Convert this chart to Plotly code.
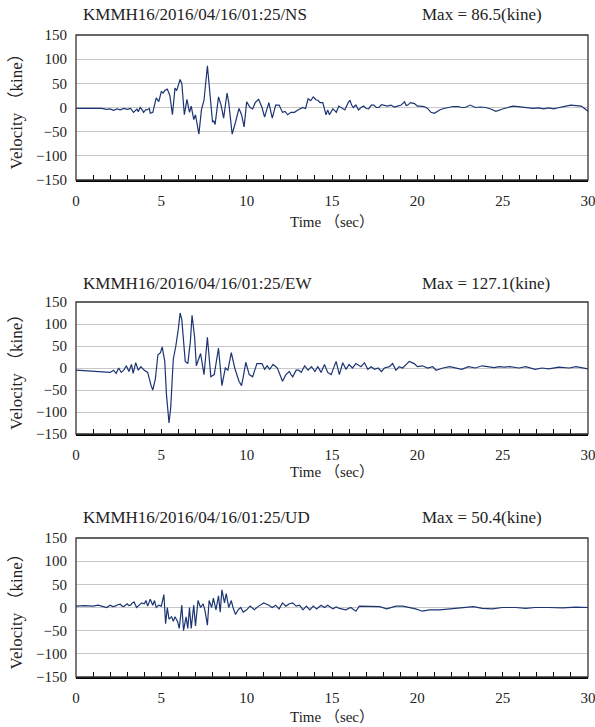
import plotly.graph_objects as go

# ---- data ----
ns_t = [0,0.5,1.0,1.5,1.8,2.0,2.2,2.4,2.6,2.8,3.0,3.2,3.37,3.5,3.57,3.65,3.76,3.9,3.96,4.1,4.16,4.3,4.35,4.5,4.7,4.85,5.0,5.1,5.2,5.35,5.5,5.65,5.8,5.9,6.1,6.2,6.35,6.5,6.65,6.75,6.9,7.0,7.2,7.35,7.5,7.7,7.85,8.0,8.07,8.15,8.35,8.5,8.65,8.85,8.95,9.15,9.35,9.55,9.7,9.85,10.0,10.2,10.35,10.5,10.7,10.9,11.05,11.3,11.5,11.7,11.9,12.1,12.25,12.4,12.6,12.8,13.0,13.29,13.45,13.6,13.75,13.9,14.05,14.17,14.3,14.46,14.65,14.75,14.85,15.05,15.15,15.25,15.4,15.55,15.75,15.95,16.05,16.15,16.25,16.4,16.55,16.7,16.85,17.0,17.15,17.3,17.45,17.6,17.75,17.9,18.05,18.25,18.45,18.65,18.85,19.05,19.25,19.35,19.44,19.6,19.83,20.0,20.12,20.4,20.6,20.8,21.0,21.15,21.3,21.55,21.8,22.1,22.4,22.6,22.8,23.1,23.4,23.7,24.0,24.3,24.6,24.8,25.0,25.3,25.6,25.9,26.2,26.5,26.8,27.1,27.4,27.7,28.0,28.2,28.4,28.7,29.0,29.3,29.6,29.8,30.0]
ns_v = [-2,-2,-3,-2,-4,-3,-6,-3,-5,-2,-4,-2,-10,-4,-3,-9,0,-6,-10,-4,-5,-2,-12,-10,20,12,33,30,35,38,25,-15,40,35,58,50,-15,17,-10,3,-25,-15,-55,-5,15,86.5,30,-30,-28,-35,22,5,-22,30,10,-55,-30,-2,-15,-40,12,0,-3,10,17,0,-20,10,-22,5,5,-10,-8,-15,-10,-10,-5,0,-2,18,14,22,16,15,10,10,-15,-5,-15,-3,-6,-10,3,0,-5,10,15,5,0,5,-5,0,3,-2,-3,5,5,0,0,6,5,3,5,1,3,5,12,4,5,10,8,3,3,2,-2,-10,-12,-8,-5,-2,0,2,2,0,0,5,0,1,0,-3,-8,-5,-3,0,3,2,1,-1,-2,-1,-3,-1,-3,-1,0,3,5,4,3,-2,-8]

ew_t = [0,0.5,1.0,1.5,1.8,2.0,2.2,2.35,2.5,2.65,2.8,2.95,3.1,3.25,3.35,3.5,3.65,3.8,4.0,4.2,4.4,4.5,4.65,4.8,4.95,5.05,5.2,5.3,5.45,5.55,5.7,5.85,6.0,6.1,6.2,6.4,6.55,6.7,6.8,6.95,7.05,7.3,7.5,7.7,7.9,8.1,8.35,8.55,8.75,8.9,9.1,9.3,9.55,9.7,9.8,9.95,10.15,10.35,10.6,10.9,11.05,11.2,11.35,11.55,11.8,12.0,12.1,12.3,12.5,12.6,12.7,12.9,13.05,13.2,13.4,13.6,13.8,14.0,14.17,14.36,14.56,14.75,14.95,15.24,15.43,15.63,15.82,16.0,16.2,16.4,16.7,16.9,17.1,17.3,17.5,17.7,17.9,18.07,18.36,18.55,18.75,18.94,19.14,19.53,19.82,20.0,20.3,20.6,20.9,21.1,21.5,21.9,22.26,22.6,23.0,23.4,23.8,24.2,24.5,24.8,25.1,25.4,25.7,25.96,26.35,26.9,27.3,27.7,28.3,28.9,29.3,29.7,30.0]
ew_v = [-5,-6,-7,-8,-8,-10,-5,-12,0,-10,-5,5,-8,8,-12,12,-5,3,-5,-10,-40,-50,-25,30,35,48,15,-60,-125,-90,20,50,90,125,110,15,10,60,120,70,5,33,-15,70,-20,-15,45,-40,0,-5,35,0,-30,-40,-20,13,-15,-20,10,10,-3,5,-3,8,0,-20,-30,-15,-8,-15,-20,-5,-5,-10,5,-5,3,-8,3,-10,8,-10,-15,15,-15,12,-3,8,0,10,3,12,-3,3,-3,0,-8,0,3,10,-5,3,0,15,10,3,5,0,3,-5,0,3,0,-3,3,0,5,3,1,3,2,3,1,0,3,-3,0,-2,2,0,3,0,-2]

ud_t = [0,0.5,1.0,1.3,1.5,1.8,2.0,2.15,2.3,2.45,2.6,2.7,2.8,2.9,3.0,3.1,3.2,3.3,3.4,3.55,3.7,3.85,4.0,4.1,4.2,4.35,4.5,4.6,4.7,4.85,5.0,5.15,5.25,5.35,5.45,5.6,5.7,5.8,5.95,6.05,6.2,6.3,6.45,6.55,6.65,6.75,6.9,7.0,7.15,7.3,7.45,7.55,7.7,7.8,7.95,8.05,8.2,8.35,8.45,8.55,8.7,8.8,8.95,9.1,9.2,9.35,9.5,9.65,9.8,10.0,10.2,10.45,10.7,11.0,11.3,11.5,11.7,11.9,12.1,12.3,12.5,12.7,12.9,13.1,13.3,13.5,13.7,13.9,14.1,14.36,14.56,14.75,15.05,15.25,15.43,15.6,15.8,16.1,16.4,16.6,17.0,17.4,17.8,18.2,18.55,18.75,19.14,19.53,19.9,20.3,20.7,21.3,21.9,22.45,23.0,23.3,23.8,24.4,24.98,25.76,26.35,26.9,27.7,28.5,29.3,30.0]
ud_v = [3,4,3,5,3,0,5,2,3,6,7,3,2,6,8,4,5,10,12,0,5,10,8,15,3,18,5,15,0,5,3,28,-35,0,-25,-20,-30,-20,-30,-45,5,-50,-20,-45,0,-45,5,-40,15,0,8,-5,-38,15,0,20,-5,25,-10,38,10,30,0,15,0,-15,-5,0,-10,-5,3,-5,3,10,5,0,5,-3,10,3,8,10,3,5,-5,3,-5,3,-3,5,0,5,-3,1,-2,-4,-5,0,-8,3,3,2,2,-3,0,3,3,0,-3,-8,-5,-5,-3,-2,0,2,-2,-3,0,0,-2,0,0,-1,1,0]

titles = ["KMMH16/2016/04/16/01:25/NS", "KMMH16/2016/04/16/01:25/EW", "KMMH16/2016/04/16/01:25/UD"]
max_labels = ["Max = 86.5(kine)", "Max = 127.1(kine)", "Max = 50.4(kine)"]
y_ticks = [150, 100, 50, 0, -50, -100, -150]
x_ticks = [0, 5, 10, 15, 20, 25, 30]

# ---- layout in pixels ----
W, H = 595, 727
L, R, T, B = 76, 7, 35, 50
plot_h = H - T - B
panels_px = [(35, 180), (302, 434), (538, 677)]   # (top, bottom) pixel rows
title_px = [14, 283, 517]
xlabel_px = [222, 472, 717]

def py(px):
    return (H - B - px) / plot_h

FONT = "Liberation Serif, Noto Sans CJK JP, serif"
LINE = "#1c3572"

fig = go.Figure()
series = [(ns_t, ns_v), (ew_t, ew_v), (ud_t, ud_v)]
annotations = []
shapes = []
for i, (t, v) in enumerate(series):
    k = "" if i == 0 else str(i + 1)
    fig.add_trace(go.Scatter(x=t, y=v, mode="lines", line=dict(color=LINE, width=1.2),
                             xaxis="x" + k, yaxis="y" + k, showlegend=False, hoverinfo="skip"))
    top, bot = panels_px[i]
    fig.layout["xaxis" + k] = dict(
        domain=[0, 1], anchor="y" + k, range=[0, 30], tickvals=x_ticks,
        ticks="inside", ticklen=5, tickcolor="black", tickwidth=1,
        minor=dict(dtick=1, ticks="inside", ticklen=5, tickcolor="black", tickwidth=1),
        showline=True, linecolor="black", linewidth=2, showgrid=False, zeroline=False,
        ticklabeloverflow="allow", ticklabelstandoff=6, automargin=False,
        tickfont=dict(family=FONT, size=15, color="#222"), fixedrange=True)
    fig.layout["yaxis" + k] = dict(
        domain=[py(bot), py(top)], anchor="x" + k, range=[-150, 150], tickvals=y_ticks,
        showline=False, showgrid=True, gridcolor="#c8c8c8", gridwidth=1, zeroline=False,
        ticks="", ticklabelstandoff=8, automargin=False,
        tickfont=dict(family=FONT, size=15, color="#222"), fixedrange=True)
    shapes.append(dict(type="rect", xref="x" + k + " domain", yref="y" + k + " domain",
                       x0=0, x1=1, y0=0, y1=1, line=dict(color="#333", width=1.3), layer="above"))
    annotations.append(dict(text=titles[i], xref="paper", yref="paper", x=(81 - L) / (W - L - R),
                            y=py(title_px[i]), xanchor="left", yanchor="middle", showarrow=False,
                            font=dict(family=FONT, size=17, color="#222")))
    annotations.append(dict(text=max_labels[i], xref="paper", yref="paper", x=(420 - L) / (W - L - R),
                            y=py(title_px[i]), xanchor="left", yanchor="middle", showarrow=False,
                            font=dict(family=FONT, size=17, color="#222")))
    annotations.append(dict(text="Time （sec）", xref="paper", yref="paper", x=0.5,
                            y=py(xlabel_px[i]), xanchor="center", yanchor="middle", showarrow=False,
                            font=dict(family=FONT, size=15, color="#222")))
    annotations.append(dict(text="Velocity （kine）", xref="paper", yref="paper", x=(16 - L) / (W - L - R),
                            y=py((top + bot) / 2), xanchor="center", yanchor="middle", showarrow=False,
                            textangle=-90, font=dict(family=FONT, size=17, color="#222")))

fig.update_layout(width=W, height=H, margin=dict(l=L, r=R, t=T, b=B, autoexpand=False),
                  paper_bgcolor="white", plot_bgcolor="white",
                  annotations=annotations, shapes=shapes)
fig.write_html("out.html")
